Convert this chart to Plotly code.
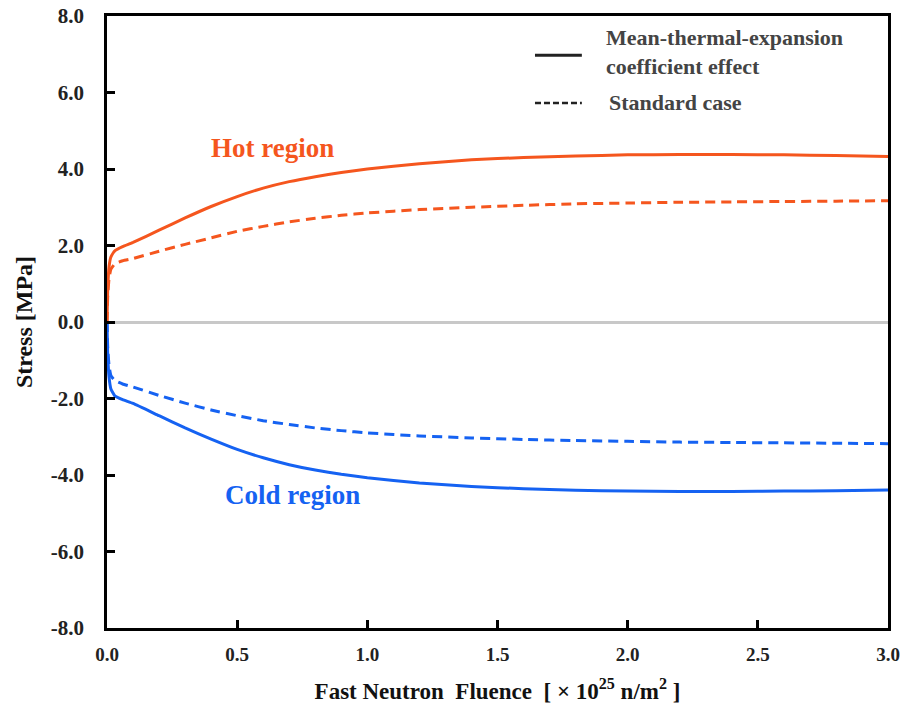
import plotly.graph_objects as go

# Fast neutron fluence [x10^25 n/m^2]
fluence = [0, 0.003, 0.008, 0.015, 0.03, 0.06, 0.1, 0.2, 0.3, 0.4, 0.5, 0.6, 0.7, 0.8, 0.9,
           1.0, 1.2, 1.4, 1.6, 1.8, 2.0, 2.2, 2.4, 2.6, 2.8, 3.0]
# Stress [MPa] - mean-thermal-expansion coefficient effect
hot_mean = [0, 0.9, 1.45, 1.7, 1.86, 1.97, 2.08, 2.40, 2.72, 3.02, 3.28, 3.50, 3.67, 3.80, 3.91,
            4.00, 4.14, 4.24, 4.30, 4.34, 4.37, 4.38, 4.38, 4.37, 4.35, 4.33]
cold_mean = [0, -0.9, -1.45, -1.75, -1.93, -2.03, -2.13, -2.45, -2.77, -3.06, -3.33, -3.55, -3.73, -3.87, -3.98,
             -4.07, -4.21, -4.30, -4.36, -4.40, -4.42, -4.43, -4.43, -4.42, -4.41, -4.39]
# Stress [MPa] - standard case
hot_std = [0, 0.7, 1.15, 1.38, 1.52, 1.6, 1.66, 1.85, 2.03, 2.2, 2.37, 2.5, 2.62, 2.71, 2.79,
           2.85, 2.94, 3.0, 3.05, 3.09, 3.11, 3.13, 3.14, 3.15, 3.16, 3.17]
cold_std = [0, -0.7, -1.15, -1.4, -1.53, -1.62, -1.7, -1.92, -2.12, -2.3, -2.45, -2.58, -2.68, -2.77, -2.84,
            -2.9, -2.98, -3.03, -3.07, -3.1, -3.12, -3.14, -3.15, -3.16, -3.17, -3.18]

x_ticks = [0, 0.5, 1.0, 1.5, 2.0, 2.5, 3.0]
y_ticks = [-8, -6, -4, -2, 0, 2, 4, 6, 8]

HOT = "#F5561E"
COLD = "#1562F2"
FONT = "Liberation Serif, Times New Roman, serif"

fig = go.Figure()
for ys, col, dash in [(hot_std, HOT, "10px,6px"), (cold_std, COLD, "10px,6px"),
                      (hot_mean, HOT, "solid"), (cold_mean, COLD, "solid")]:
    fig.add_trace(go.Scatter(x=fluence, y=ys, mode="lines",
                             line=dict(color=col, width=3, dash=dash, shape="spline", smoothing=0.4),
                             showlegend=False))

axis_common = dict(showline=True, linecolor="black", linewidth=2.5, mirror=True,
                   ticks="inside", ticklen=8, tickwidth=2.5, tickcolor="black",
                   showgrid=False, automargin=False)

fig.update_xaxes(range=[0, 3], tickvals=x_ticks,
                 ticktext=[f"<b>{v:.1f}</b>" for v in x_ticks],
                 tickfont=dict(family=FONT, size=19, color="#222222"),
                 zeroline=False, ticklabelstandoff=7,
                 title=dict(text="<b>Fast Neutron  Fluence  [ × 10<sup>25</sup> n/m<sup>2</sup> ]</b>",
                            font=dict(family=FONT, size=23, color="#111111"), standoff=20),
                 **axis_common)
fig.update_yaxes(range=[-8, 8], tickvals=y_ticks,
                 ticktext=[f"<b>{v:.1f}</b>" for v in y_ticks],
                 tickfont=dict(family=FONT, size=21, color="#222222"),
                 zeroline=True, zerolinecolor="#C8C8C8", zerolinewidth=2.5,
                 ticklabelstandoff=16,
                 title=dict(text="<b>Stress [MPa]</b>",
                            font=dict(family=FONT, size=24, color="#111111"), standoff=12),
                 **axis_common)

fig.add_annotation(x=0.634, y=4.54, xref="x", yref="y", text="<b>Hot region</b>",
                   showarrow=False, font=dict(family=FONT, size=27, color=HOT))
fig.add_annotation(x=0.711, y=-4.52, xref="x", yref="y", text="<b>Cold region</b>",
                   showarrow=False, font=dict(family=FONT, size=27, color=COLD))

# legend (drawn manually)
leg_font = dict(family=FONT, size=22, color="#444444")
fig.add_shape(type="line", xref="paper", yref="paper", x0=0.548, x1=0.608, y0=0.936, y1=0.936,
              line=dict(color="#222222", width=3))
fig.add_shape(type="line", xref="paper", yref="paper", x0=0.548, x1=0.608, y0=0.858, y1=0.858,
              line=dict(color="#222222", width=2.5, dash="6px,3px"))
fig.add_annotation(xref="paper", yref="paper", x=0.636, y=0.941, xanchor="left", yanchor="middle",
                   text="<b>Mean-thermal-expansion<br>coefficient effect</b>", align="left",
                   showarrow=False, font=leg_font)
fig.add_annotation(xref="paper", yref="paper", x=0.640, y=0.858, xanchor="left", yanchor="middle",
                   text="<b>Standard case</b>", align="left",
                   showarrow=False, font=leg_font)

fig.update_layout(width=904, height=718, plot_bgcolor="white", paper_bgcolor="white",
                  margin=dict(l=107, r=16, t=16, b=90))
fig.write_html("out.html", post_script="document.body.style.margin='0';",
               config={"displayModeBar": False})
